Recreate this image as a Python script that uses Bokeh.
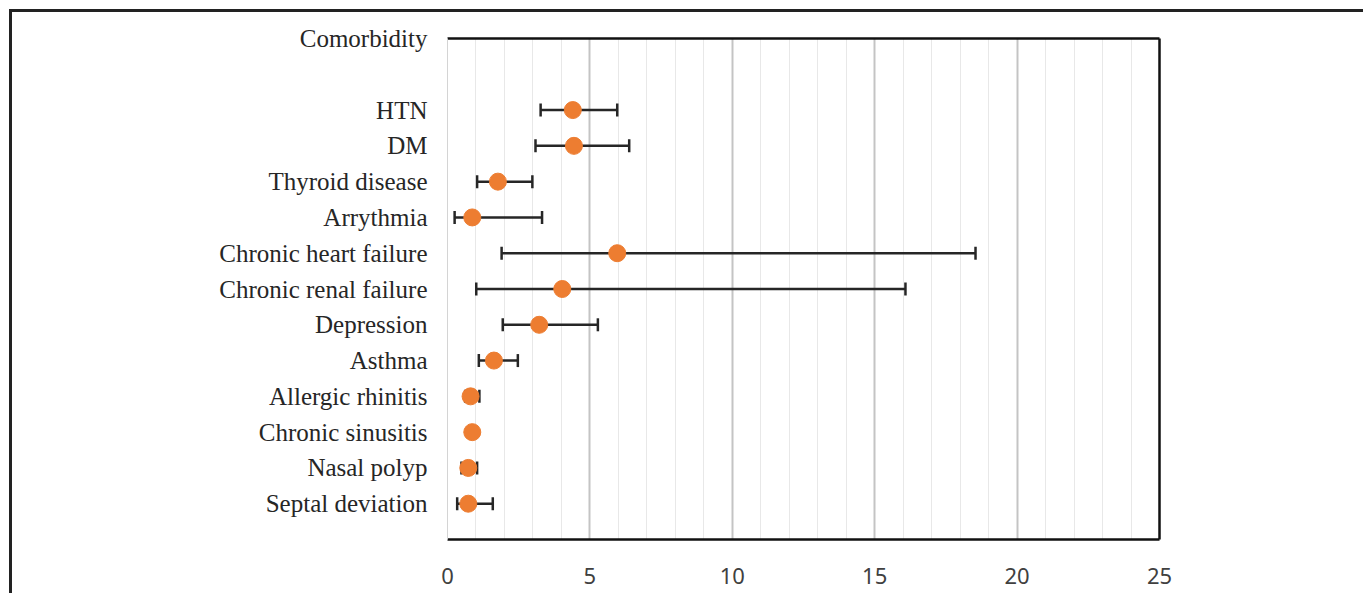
from bokeh.plotting import figure
from bokeh.models import (ColumnDataSource, Whisker, TeeHead, FixedTicker, LinearAxis,
                          Range1d)
from bokeh.embed import file_html
from bokeh.resources import INLINE

header = "Comorbidity"
categories = ["HTN", "DM", "Thyroid disease", "Arrythmia", "Chronic heart failure",
              "Chronic renal failure", "Depression", "Asthma", "Allergic rhinitis",
              "Chronic sinusitis", "Nasal polyp", "Septal deviation"]
estimate = [4.40, 4.44, 1.77, 0.87, 5.96, 4.03, 3.22, 1.63, 0.81, 0.87, 0.73, 0.73]
ci_lower = [3.27, 3.09, 1.04, 0.25, 1.90, 1.01, 1.94, 1.10, 0.62, 0.76, 0.49, 0.34]
ci_upper = [5.96, 6.38, 2.98, 3.32, 18.54, 16.08, 5.28, 2.47, 1.12, 0.99, 1.04, 1.59]
x_ticks = [0, 5, 10, 15, 20, 25]

n = len(categories)
ypos = [n - i for i in range(n)]
header_pos = n + 2

src = ColumnDataSource(dict(y=ypos, est=estimate, lo=ci_lower, hi=ci_upper, cat=categories))

OFF = 12
W, H = 1366 - OFF, 596 - OFF
p = figure(width=W, height=H, output_backend="svg", toolbar_location=None,
           x_range=Range1d(0, 25), y_range=Range1d(0, header_pos),
           x_axis_location=None, y_axis_location=None,
           min_border_left=447 - OFF, min_border_right=W - (447 - OFF) - 712,
           min_border_top=38 - OFF, min_border_bottom=H - (38 - OFF) - 501)
p.outline_line_color = None
p.background_fill_color = "white"
p.border_fill_color = "white"
p.styles = {"margin-left": "9px", "margin-top": "9px",
            "border-top": "3px solid #222222", "border-left": "3px solid #222222"}

# grid
p.xgrid.ticker = FixedTicker(ticks=x_ticks, minor_ticks=list(range(0, 26)))
p.xgrid.grid_line_color = "#c4c4c4"
p.xgrid.grid_line_width = 2
p.xgrid.minor_grid_line_color = "#e8e8e8"
p.xgrid.minor_grid_line_width = 1
p.ygrid.grid_line_color = None

# axes
xax = LinearAxis(ticker=FixedTicker(ticks=x_ticks))
xax.axis_line_color = "#111111"
xax.axis_line_width = 2.5
xax.major_tick_line_color = None
xax.minor_tick_line_color = None
xax.major_label_text_font = "Noto Sans"
xax.major_label_text_font_size = "22px"
xax.major_label_text_color = "#404040"
xax.major_label_standoff = 22
p.add_layout(xax, "below")

yax = LinearAxis(ticker=FixedTicker(ticks=ypos + [header_pos]))
yax.major_label_overrides = {**{y: c for y, c in zip(ypos, categories)}, header_pos: header}
yax.axis_line_color = "#d4d4d4"
yax.axis_line_width = 1
yax.major_tick_line_color = None
yax.minor_tick_line_color = None
yax.major_label_text_font = "Liberation Serif"
yax.major_label_text_font_size = "25px"
yax.major_label_text_color = "#262626"
yax.major_label_standoff = 14
p.add_layout(yax, "left")

for loc in ("above", "right"):
    a = LinearAxis(ticker=FixedTicker(ticks=[]))
    a.axis_line_color = "#111111"
    a.axis_line_width = 2.5
    a.major_tick_line_color = None
    a.minor_tick_line_color = None
    a.major_label_text_font_size = "0px"
    p.add_layout(a, loc)

# error bars
wk = Whisker(source=src, base="y", lower="lo", upper="hi", dimension="width",
             line_color="#262626", line_width=2.5,
             lower_head=TeeHead(size=13, line_color="#262626", line_width=2.5),
             upper_head=TeeHead(size=13, line_color="#262626", line_width=2.5))
p.add_layout(wk)

p.scatter("est", "y", source=src, size=17, fill_color="#ED7D31", line_color="#ED7D31")

open("out.html", "w").write(file_html(p, INLINE))
